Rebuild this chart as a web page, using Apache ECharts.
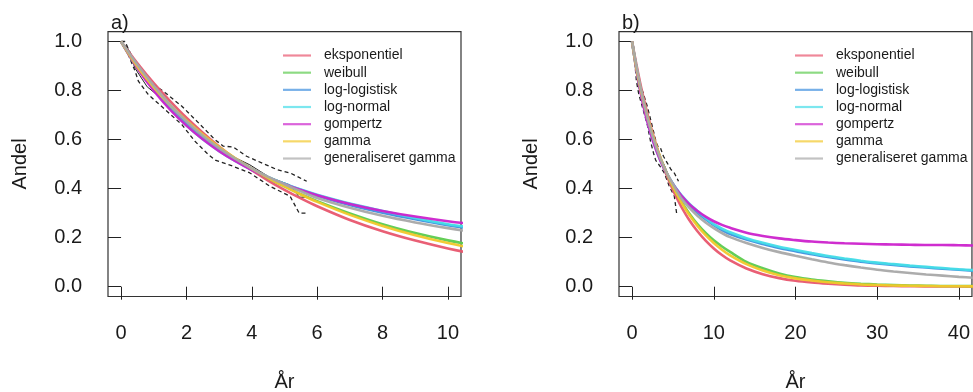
<!DOCTYPE html>
<html>
<head>
<meta charset="utf-8">
<script src="https://cdn.jsdelivr.net/npm/echarts@6/dist/echarts.min.js"></script>
<style>
html,body{margin:0;padding:0;background:#fff;}
#c{width:973px;height:392px;}
</style>
</head>
<body>
<div id="c"></div>
<script>
// ---- data ----
const years = [0,0.5,1,1.5,2,2.5,3,3.5,4,4.5,5,5.5,6,7,8,9,10,11,12,14,16,18,20,22,24,26,28,30,32,34,36,38,40,42];
const eksponentiel = [1,0.911,0.830,0.757,0.689,0.628,0.572,0.521,0.475,0.433,0.395,0.360,0.328,0.272,0.226,0.188,0.156,0.129,0.107,0.074,0.051,0.035,0.024,0.017,0.012,0.008,0.005,0.004,0.003,0.002,0.001,0.001,0.001,0.000];
const weibull = [1,0.891,0.807,0.735,0.673,0.616,0.566,0.521,0.480,0.443,0.409,0.377,0.349,0.299,0.255,0.219,0.189,0.164,0.142,0.101,0.075,0.054,0.039,0.029,0.022,0.016,0.012,0.009,0.007,0.005,0.004,0.003,0.003,0.002];
const logLogistisk = [1,0.900,0.810,0.732,0.665,0.607,0.558,0.516,0.479,0.447,0.419,0.394,0.371,0.333,0.302,0.275,0.251,0.231,0.215,0.192,0.174,0.158,0.145,0.132,0.121,0.111,0.102,0.095,0.089,0.083,0.078,0.073,0.069,0.065];
const logNormal = [1,0.895,0.805,0.726,0.658,0.601,0.553,0.512,0.477,0.447,0.420,0.396,0.375,0.339,0.309,0.280,0.255,0.237,0.222,0.198,0.179,0.163,0.150,0.137,0.125,0.115,0.106,0.098,0.092,0.086,0.081,0.076,0.071,0.067];
const gompertz = [1,0.891,0.799,0.722,0.657,0.601,0.553,0.512,0.476,0.445,0.418,0.394,0.373,0.337,0.309,0.286,0.267,0.252,0.240,0.220,0.207,0.197,0.190,0.184,0.180,0.177,0.175,0.173,0.172,0.171,0.170,0.170,0.169,0.168];
const gamma = [1,0.897,0.813,0.741,0.678,0.621,0.570,0.524,0.482,0.444,0.409,0.376,0.346,0.293,0.248,0.210,0.178,0.151,0.128,0.092,0.066,0.047,0.034,0.025,0.018,0.013,0.009,0.007,0.005,0.004,0.003,0.002,0.002,0.001];
const genGamma = [1,0.905,0.820,0.743,0.675,0.616,0.565,0.521,0.482,0.448,0.418,0.389,0.362,0.322,0.289,0.262,0.239,0.219,0.202,0.178,0.158,0.141,0.126,0.112,0.099,0.088,0.078,0.069,0.062,0.056,0.050,0.045,0.040,0.036];

// Kaplan-Meier estimate and its confidence band
const kmTime = [0,0.2,0.43,0.8,1.35,1.86,2.37,2.87,3.43,3.94,4.56,5.17,5.45,5.65];
const kmSurv = [1,0.975,0.89,0.815,0.756,0.70,0.63,0.57,0.53,0.497,0.445,0.415,0.365,0.365];
const upperTime = [0,0.12,0.28,0.43,0.8,1.35,1.86,2.37,2.87,3.13,3.43,3.84,4.3,4.76,5.2,5.68];
const upperSurv = [1,1,0.954,0.906,0.845,0.791,0.736,0.668,0.600,0.573,0.570,0.532,0.505,0.478,0.462,0.430];
const lowerTime = [0,0.22,0.43,0.53,0.83,1.35,1.86,2.26,2.67,2.9,3.43,3.94,4.56,5.17,5.45,5.65];
const lowerSurv = [1,0.947,0.879,0.838,0.784,0.722,0.661,0.593,0.539,0.515,0.491,0.464,0.409,0.369,0.30,0.30];

const seriesNames = ['eksponentiel','weibull','log-logistisk','log-normal','gompertz','gamma','generaliseret gamma'];
const seriesValues = [eksponentiel, weibull, logLogistisk, logNormal, gompertz, gamma, genGamma];
const colors = ['#E8566E','#5CCB4E','#3D8FDE','#45DDE8','#CC22CC','#F2C82A','#A8A8A8'];

const xTicksA = [0,2,4,6,8,10];
const xTicksB = [0,10,20,30,40];
const yTicks = [0,0.2,0.4,0.6,0.8,1.0];

// ---- chart ----
const FONT = '"Liberation Sans", Arial, Helvetica, sans-serif';
const txt = '#1a1a1a';
const chart = echarts.init(document.getElementById('c'), null, {renderer:'canvas'});

function xAxis(gi, min, max, ticks){
  return {
    type:'value', gridIndex:gi, min:min, max:max,
    axisLine:{show:false},
    splitLine:{show:false},
    axisTick:{show:true, customValues:ticks, length:13, inside:false, lineStyle:{color:'#222', width:1}},
    axisLabel:{show:true, customValues:ticks, margin:27, fontSize:20, fontFamily:FONT, color:txt, formatter:v=>String(v)}
  };
}
function yAxis(gi){
  return {
    type:'value', gridIndex:gi, min:-0.04, max:1.04,
    axisLine:{show:false},
    splitLine:{show:false},
    axisTick:{show:true, customValues:yTicks, length:13, inside:false, lineStyle:{color:'#222', width:1}},
    axisLabel:{show:true, customValues:yTicks, margin:26, fontSize:20, fontFamily:FONT, color:txt, formatter:v=>v.toFixed(1)}
  };
}

const series = [];
[0,1].forEach(gi=>{
  series.push({
    type:'line', xAxisIndex:gi, yAxisIndex:gi, silent:true, symbol:'none', z:1,
    data: kmTime.map((t,i)=>[t,kmSurv[i]]),
    lineStyle:{color:'#222', width:1}
  });
  series.push({
    type:'line', xAxisIndex:gi, yAxisIndex:gi, silent:true, symbol:'none', z:1,
    data: upperTime.map((t,i)=>[t,upperSurv[i]]),
    lineStyle:{color:'#222', width:1.3, type:[4,3]}
  });
  series.push({
    type:'line', xAxisIndex:gi, yAxisIndex:gi, silent:true, symbol:'none', z:1,
    data: lowerTime.map((t,i)=>[t,lowerSurv[i]]),
    lineStyle:{color:'#222', width:1.3, type:[4,3]}
  });
  seriesNames.forEach((name,k)=>{
    series.push({
      name:name, type:'line', xAxisIndex:gi, yAxisIndex:gi, symbol:'none', smooth:0.3, z:2+k,
      clip:true,
      data: years.map((t,i)=>[t, seriesValues[k][i]]),
      lineStyle:{color:colors[k], width:2.6, opacity:0.95},
      itemStyle:{color:colors[k]}
    });
  });
});

function legend(left){
  return {
    left:left, top:42, orient:'vertical', icon:'rect', itemWidth:28, itemHeight:2.2,
    itemGap:0.17, selectedMode:false,
    itemStyle:{opacity:0.7},
    textStyle:{fontSize:14, fontFamily:FONT, color:txt, lineHeight:17, padding:[0,0,0,8]},
    data:seriesNames
  };
}

chart.setOption({
  animation:false,
  color:colors,
  grid:[
    {left:108, top:31.7, width:353, height:264.8, show:true, borderColor:'#333', borderWidth:1.2, backgroundColor:'transparent'},
    {left:619, top:31.7, width:353, height:264.8, show:true, borderColor:'#333', borderWidth:1.2, backgroundColor:'transparent'}
  ],
  xAxis:[ xAxis(0,-0.4,10.4,xTicksA), xAxis(1,-1.6,41.6,xTicksB) ],
  yAxis:[ yAxis(0), yAxis(1) ],
  legend:[ legend(278), legend(790) ],
  graphic:[
    {type:'text', style:{x:111, y:23, text:'a)', font:'20px '+FONT, fill:txt, textAlign:'left', textVerticalAlign:'middle'}},
    {type:'text', style:{x:622, y:23, text:'b)', font:'20px '+FONT, fill:txt, textAlign:'left', textVerticalAlign:'middle'}},
    {type:'text', x:20, y:164, rotation:Math.PI/2, style:{x:0, y:0, text:'Andel', font:'20px '+FONT, fill:txt, textAlign:'center', textVerticalAlign:'middle'}},
    {type:'text', x:531, y:164, rotation:Math.PI/2, style:{x:0, y:0, text:'Andel', font:'20px '+FONT, fill:txt, textAlign:'center', textVerticalAlign:'middle'}},
    {type:'text', style:{x:284.5, y:382, text:'År', font:'20px '+FONT, fill:txt, textAlign:'center', textVerticalAlign:'middle'}},
    {type:'text', style:{x:795.5, y:382, text:'År', font:'20px '+FONT, fill:txt, textAlign:'center', textVerticalAlign:'middle'}}
  ],
  series:series
});
</script>
</body>
</html>
